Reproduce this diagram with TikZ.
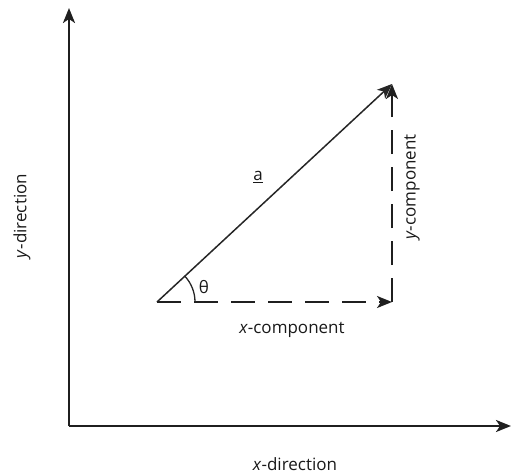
\documentclass[tikz,border=0pt]{standalone}
\usepackage{fontspec}
\setmainfont{Open Sans}
\usetikzlibrary{arrows.meta}
\begin{document}
\begin{tikzpicture}[x=1pt,y=-1pt,
  axis/.style={line width=2.2pt,draw=black!88,-{Stealth[length=15pt,width=12pt,inset=4pt]}},
  vec/.style={line width=1.5pt,draw=black!85,-{Stealth[length=15pt,width=12pt,inset=4pt]}},
  comp/.style={line width=2pt,draw=black!88,dash pattern=on 24pt off 13pt,-{Stealth[length=15pt,width=12pt,inset=4pt]}},
  lbl/.style={font=\fontsize{17pt}{20pt}\selectfont,text=black!90,inner sep=0pt}]
\useasboundingbox (0,0) rectangle (512,474);
\coordinate (O) at (69,426);
\coordinate (ytip) at (69,8);
\coordinate (xtip) at (511,426);
\coordinate (P) at (157,302);
\coordinate (Q) at (392,302);
\coordinate (T) at (392,84);
\draw[axis] (O) -- (ytip);
\draw[axis] (O) -- (xtip);
\draw[vec] (P) -- (T);
\draw[comp] (P) -- (Q);
\draw[comp,dash phase=0pt] (Q) -- (T);
\draw[line width=1.3pt,draw=black!85] ([xshift=38pt]P) arc[start angle=0,end angle=42.8,radius=38pt];
\node[lbl] (theta) at (204,287) {θ};
\node[lbl] (a) at (258,177) {\underline{a}};
\node[lbl] (xc) at (292,330) {\textit{x}-component};
\node[lbl,rotate=90] (yc) at (412,187) {\textit{y}-component};
\node[lbl,rotate=90] (yd) at (22,216) {\textit{y}-direction};
\node[lbl] (xd) at (295,464) {\textit{x}-direction};
\end{tikzpicture}
\end{document}
